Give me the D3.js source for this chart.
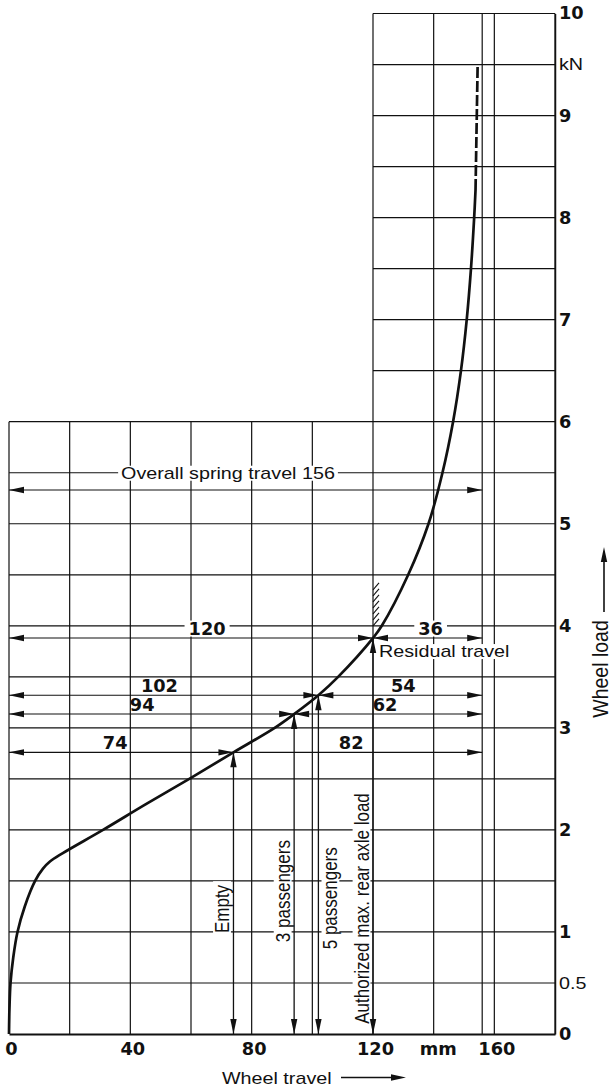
<!DOCTYPE html>
<html>
<head>
<meta charset="utf-8">
<script src="https://cdn.jsdelivr.net/npm/d3@7"></script>
<style>
  body { margin: 0; background: #fff; }
  svg { display: block; }
  .num { font-family: "Liberation Sans Narrow", "DejaVu Sans Condensed", sans-serif; font-weight: bold; font-size: 17px; fill: #111; }
  .txt { font-family: "Liberation Sans", Arial, sans-serif; font-size: 17px; fill: #111; }
</style>
</head>
<body>
<div id="chart"></div>
<script>
// spring characteristic (mm / kN)
const travelMm = [0, 0.15, 0.5, 1.4, 2.8, 5.2, 8.6, 11.2, 13.5, 17.6, 31, 45, 60, 74, 87.6, 94, 102, 108.5, 120, 122.9, 131.6, 138.3, 142.9, 146.4, 149.0, 150.9, 152.3, 153.35, 153.8];
const loadKn   = [0, 0.25, 0.5, 0.75, 1.0, 1.25, 1.5, 1.62, 1.69, 1.77, 2.0, 2.25, 2.51, 2.76, 3.0, 3.135, 3.32, 3.5, 3.88, 4.0, 4.5, 5.0, 5.5, 6.0, 6.5, 7.0, 7.5, 8.0, 8.27];
// dashed upper end
const dashTravel = [153.8, 154.5];
const dashLoad = [8.27, 9.5];

// load cases
const loadCases = ["Empty", "3 passengers", "5 passengers", "Authorized max. rear axle load"];
const caseTravel = [74, 94, 102, 120];
const caseLoad = [2.76, 3.135, 3.32, 3.88];
const usedLabelAt = [35, 43.9, 49.6, 65.3];
const restLabelAt = [112.8, 124, 130, 139];
const caseTextLoad = [1.225, 1.4, 1.33, 1.23];

const totalTravel = 156;
const overallLoad = 5.33;
const overallLabelAt = 72.2;
const stopMark = [3.95, 4.42];

// axes / grid
const xTicks = [0, 40, 80, 120, 160];
const xTickLabels = ["0", "40", "80", "120", "160"];
const yTicks = [0, 0.5, 1, 2, 3, 4, 5, 6, 7, 8, 9, 9.5, 10];
const yTickLabels = ["0", "0.5", "1", "2", "3", "4", "5", "6", "7", "8", "9", "kN", "10"];
const lowerGridLoad = [0.5, 1, 1.5, 2, 2.5, 3, 3.5, 4, 4.5, 5, 5.5, 6];
const upperGridLoad = [6.5, 7, 7.5, 8, 8.5, 9, 9.5, 10];
const lowerGridTravel = [0, 20, 40, 60, 80, 100, 120, 140, 156, 160, 180];
const upperGridTravel = [120, 140, 156, 160, 180];

const W = 611, H = 1089;
const wide = 1.16; // the scan is a bit wider than tall
const svg = d3.select('#chart').append('svg').attr('width', W).attr('height', H);
svg.append('rect').attr('width', W).attr('height', H).attr('fill', '#fff');

const x = d3.scaleLinear().domain([0, 180]).range([9, 555]);
const y = d3.scaleLinear().domain([0, 10]).range([1034, 13.5]);
const ink = '#111';

//grid
const grid = svg.append('g').attr('stroke', ink).attr('stroke-width', 1.2);
grid.selectAll('.hl').data(lowerGridLoad).join('line').attr('class', 'hl')
  .attr('x1', x(0)).attr('x2', x(180)).attr('y1', d => y(d)).attr('y2', d => y(d));
grid.selectAll('.hu').data(upperGridLoad).join('line').attr('class', 'hu')
  .attr('x1', x(120)).attr('x2', x(180)).attr('y1', d => y(d)).attr('y2', d => y(d));
grid.selectAll('.vl').data(lowerGridTravel).join('line').attr('class', 'vl')
  .attr('x1', d => x(d)).attr('x2', d => x(d)).attr('y1', y(0)).attr('y2', y(6));
grid.selectAll('.vu').data(upperGridTravel).join('line').attr('class', 'vu')
  .attr('x1', d => x(d)).attr('x2', d => x(d)).attr('y1', y(6)).attr('y2', y(10));

//helpers
function stretch(sel) {
  sel.each(function () {
    const L = this.getComputedTextLength();
    d3.select(this).attr('textLength', L * wide).attr('lengthAdjust', 'spacingAndGlyphs');
  });
  return sel;
}
function whiteBehind(sel, pad) {
  sel.each(function () {
    const b = this.getBBox();
    d3.select(this.parentNode).insert('rect', () => this)
      .attr('x', b.x - pad).attr('y', b.y + 2)
      .attr('width', b.width + 2 * pad).attr('height', b.height - 4)
      .attr('transform', this.getAttribute('transform'))
      .attr('fill', '#fff');
  });
}
function head(g, tx, ty, dir) {
  const L = 15, w = 3.2;
  let p;
  if (dir === 'l') p = [[tx, ty], [tx + L, ty - w], [tx + L, ty + w]];
  if (dir === 'r') p = [[tx, ty], [tx - L, ty - w], [tx - L, ty + w]];
  if (dir === 'u') p = [[tx, ty], [tx - w, ty + L], [tx + w, ty + L]];
  if (dir === 'd') p = [[tx, ty], [tx - w, ty - L], [tx + w, ty - L]];
  g.append('path').attr('d', 'M' + p.join('L') + 'Z').attr('fill', ink);
}

//axes
const right = svg.append('g').attr('transform', `translate(${x(180)},0)`)
  .call(d3.axisRight(y).tickValues(yTicks).tickSize(0).tickPadding(4)
    .tickFormat((d, i) => yTickLabels[i]));
right.select('.domain').attr('stroke', ink).attr('stroke-width', 1.5);
right.selectAll('text')
  .attr('class', (d, i) => (yTickLabels[i] === 'kN' || yTickLabels[i] === '0.5') ? 'txt' : 'num')
  .attr('font-family', null).attr('font-size', null).attr('fill', null);
stretch(right.selectAll('text'));

const bottom = svg.append('g').attr('transform', `translate(0,${y(0)})`)
  .call(d3.axisBottom(x).tickValues(xTicks).tickSize(0).tickPadding(9)
    .tickFormat((d, i) => xTickLabels[i]));
bottom.select('.domain').attr('stroke', ink).attr('stroke-width', 2);
bottom.selectAll('text').attr('class', 'num').attr('font-family', null).attr('font-size', null)
  .attr('fill', null).attr('dx', 2);
bottom.append('text').attr('class', 'num').attr('x', x(141.5)).attr('y', 9).attr('dy', '0.71em')
  .attr('text-anchor', 'middle').text('mm');
stretch(bottom.selectAll('text'));

//labels with white background
const labels = svg.append('g');
const overallText = labels.append('text').attr('class', 'txt')
  .attr('x', x(overallLabelAt)).attr('y', y(5.5) + 6).attr('text-anchor', 'middle')
  .text('Overall spring travel ' + totalTravel);
whiteBehind(stretch(overallText), 3);

const caseTexts = labels.selectAll('.case').data(loadCases).join('text').attr('class', 'txt case')
  .attr('text-anchor', 'middle')
  .attr('transform', (d, i) => {
    const bx = i === 2 ? x(caseTravel[i]) + 19 : x(caseTravel[i]) - 4.5;
    return `translate(${bx},${y(caseTextLoad[i])}) scale(${wide},1) rotate(-90)`;
  })
  .text(d => d);
whiteBehind(caseTexts, 3);

const residual = labels.append('text').attr('class', 'txt')
  .attr('x', x(120) + 6).attr('y', y(caseLoad[3]) + 19).text('Residual travel');
whiteBehind(stretch(residual), 2);

//dimension lines
const dims = svg.append('g');
caseTravel.forEach((t, i) => {
  const yy = y(caseLoad[i]);
  dims.append('line').attr('x1', x(0)).attr('x2', x(totalTravel)).attr('y1', yy).attr('y2', yy)
    .attr('stroke', ink).attr('stroke-width', 1.1);
  head(dims, x(0), yy, 'l');
  head(dims, x(t), yy, 'r');
  if (i > 0) head(dims, x(t), yy, 'l');
  head(dims, x(totalTravel), yy, 'r');
  const a = dims.append('text').attr('class', 'num').attr('text-anchor', 'middle')
    .attr('x', x(usedLabelAt[i])).attr('y', yy - 3.5).text(t);
  const b = dims.append('text').attr('class', 'num').attr('text-anchor', 'middle')
    .attr('x', x(restLabelAt[i])).attr('y', yy - 3.5).text(totalTravel - t);
  stretch(a); stretch(b);
  if (i === 3) { whiteBehind(a, 4); whiteBehind(b, 4); }

  // vertical arrow down to the travel axis
  dims.append('line').attr('x1', x(t)).attr('x2', x(t)).attr('y1', yy).attr('y2', y(0))
    .attr('stroke', ink).attr('stroke-width', 1.3);
  head(dims, x(t), yy, 'u');
  head(dims, x(t), y(0), 'd');
});
// overall travel
dims.append('line').attr('x1', x(0)).attr('x2', x(totalTravel))
  .attr('y1', y(overallLoad)).attr('y2', y(overallLoad)).attr('stroke', ink).attr('stroke-width', 1.1);
head(dims, x(0), y(overallLoad), 'l');
head(dims, x(totalTravel), y(overallLoad), 'r');

// stop hatch at max axle load
const hx = x(caseTravel[3]);
const hTop = y(stopMark[1]), hBot = y(stopMark[0]);
const hatch = d3.range(hTop + 7, hBot + 1, 6);
dims.selectAll('.hatch').data(hatch).join('line').attr('class', 'hatch')
  .attr('x1', hx).attr('y1', d => d).attr('x2', hx + 6).attr('y2', d => d - 7)
  .attr('stroke', ink).attr('stroke-width', 1.1);

//spring curve
const pts = travelMm.map((t, i) => [t, loadKn[i]]);
const line = d3.line().x(d => x(d[0])).y(d => y(d[1])).curve(d3.curveCatmullRom.alpha(0.5));
svg.append('path').attr('d', line(pts)).attr('fill', 'none')
  .attr('stroke', ink).attr('stroke-width', 2.7).attr('stroke-linejoin', 'round');
svg.append('path').attr('d', line(dashTravel.map((t, i) => [t, dashLoad[i]])))
  .attr('fill', 'none').attr('stroke', ink).attr('stroke-width', 2.7).attr('stroke-dasharray', '11,3');

//axis titles
const xt = svg.append('g');
stretch(xt.append('text').attr('class', 'txt').attr('x', 222).attr('y', 1084).text('Wheel travel'));
xt.append('line').attr('x1', 341).attr('x2', 392).attr('y1', 1077.5).attr('y2', 1077.5)
  .attr('stroke', ink).attr('stroke-width', 1.6);
head(xt, 406, 1077.5, 'r');

const yt = svg.append('g');
yt.append('text').attr('class', 'txt').attr('text-anchor', 'middle').style('font-size', '19.5px')
  .attr('transform', `translate(608,669) scale(${wide},1) rotate(-90)`).text('Wheel load');
yt.append('line').attr('x1', 604).attr('x2', 604).attr('y1', 612).attr('y2', 560)
  .attr('stroke', ink).attr('stroke-width', 1.6);
head(yt, 604, 547, 'u');
</script>
</body>
</html>
